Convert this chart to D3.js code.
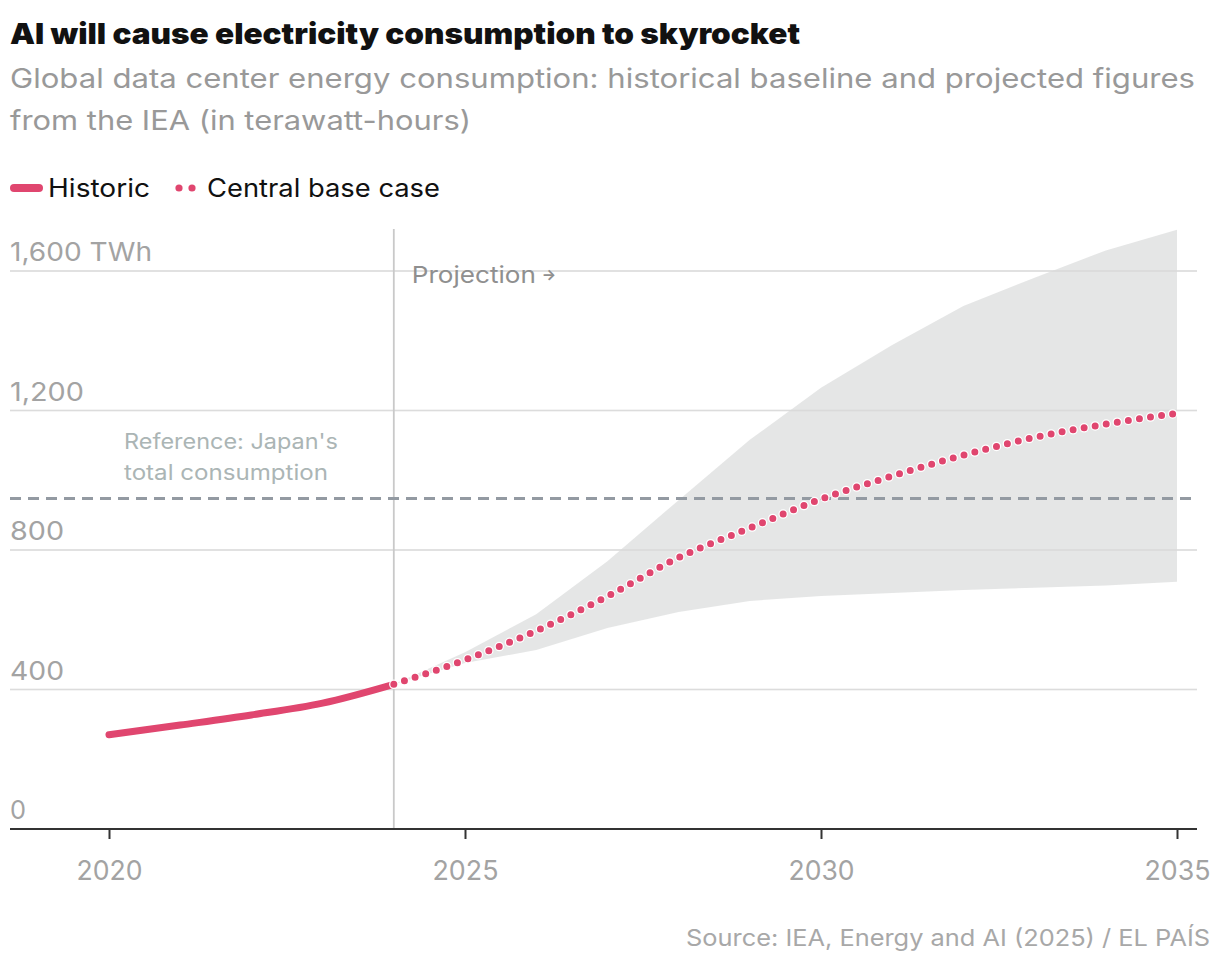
<!DOCTYPE html>
<html>
<head>
<meta charset="utf-8">
<script src="https://cdn.jsdelivr.net/npm/d3@7"></script>
<style>
  html, body { margin: 0; padding: 0; background: #fff; }
  svg { display: block; font-family: Inter, Roboto, "Noto Sans", sans-serif; }
</style>
</head>
<body>
<svg id="chart" width="1220" height="966"></svg>
<script>
// ---- data ----
const historicYears = [2020, 2021, 2022, 2023, 2024];
const historicValues = [270, 298, 327, 361, 415];

const projYears = [2024, 2025, 2026, 2027, 2028, 2029, 2030, 2031, 2032, 2033, 2034, 2035];
const centralValues = [415, 485, 568, 667, 778, 863, 946, 1012, 1072, 1123, 1161, 1192];
const upperValues   = [415, 507, 616, 768, 943, 1116, 1265, 1388, 1500, 1581, 1659, 1718];
const lowerValues   = [415, 476, 513, 576, 622, 654, 668, 677, 685, 692, 698, 709];

const japanReference = 948;
const projectionStartYear = 2024;

const yTicks = [0, 400, 800, 1200, 1600];
const yTickLabels = ["0", "400", "800", "1,200", "1,600 TWh"];
const xTicks = [2020, 2025, 2030, 2035];
const xTickLabels = ["2020", "2025", "2030", "2035"];

const titleText = "AI will cause electricity consumption to skyrocket";
const subtitleLines = [
  "Global data center energy consumption: historical baseline and projected figures",
  "from the IEA (in terawatt-hours)"
];
const legendLabels = ["Historic", "Central base case"];
const sourceText = "Source: IEA, Energy and AI (2025) / EL PAÍS";

// ---- drawing ----
const pink = "#e0466f";
const svg = d3.select("#chart");

const x = d3.scaleLinear().domain([2020, 2035]).range([109, 1177]);
const y = d3.scaleLinear().domain([0, 1600]).range([829, 271]);
const plotLeft = 10, plotRight = 1197;

function fit(sel, w) {
  sel.attr("textLength", w).attr("lengthAdjust", "spacingAndGlyphs");
  return sel;
}

// Title
fit(svg.append("text").attr("x", 10).attr("y", 44)
  .attr("font-size", 29).attr("font-weight", 900).attr("fill", "#111")
  .text(titleText), 790);

const subW = [1185, 461];
svg.selectAll("text.sub").data(subtitleLines).join("text")
  .attr("class", "sub")
  .attr("x", 10).attr("y", (d, i) => 88 + i * 42)
  .attr("font-size", 27).attr("fill", "#999")
  .attr("textLength", (d, i) => subW[i]).attr("lengthAdjust", "spacingAndGlyphs")
  .text(d => d);

// Legend
const lg = svg.append("g");
lg.append("line").attr("x1", 14).attr("x2", 39).attr("y1", 188).attr("y2", 188)
  .attr("stroke", pink).attr("stroke-width", 8).attr("stroke-linecap", "round");
fit(lg.append("text").attr("x", 48).attr("y", 197).attr("font-size", 25).attr("fill", "#111")
  .text(legendLabels[0]), 102);
lg.selectAll("circle").data([179, 192]).join("circle")
  .attr("cx", d => d).attr("cy", 188).attr("r", 3.6).attr("fill", pink);
fit(lg.append("text").attr("x", 207).attr("y", 197).attr("font-size", 25).attr("fill", "#111")
  .text(legendLabels[1]), 233);

// Gridlines
svg.append("g").selectAll("line").data(yTicks.filter(d => d > 0)).join("line")
  .attr("x1", plotLeft).attr("x2", plotRight)
  .attr("y1", d => y(d)).attr("y2", d => y(d))
  .attr("stroke", "#e2e2e2").attr("stroke-width", 1.5);

// Band
const bandData = projYears.map((yr, i) => ({ yr, lo: lowerValues[i], hi: upperValues[i] }));
svg.append("path").datum(bandData)
  .attr("d", d3.area().x(d => x(d.yr)).y0(d => y(d.lo)).y1(d => y(d.hi)))
  .attr("fill", "#dcdede").attr("fill-opacity", 0.75);

// Gridlines over band (faint)
svg.append("g").selectAll("line").data(yTicks.filter(d => d > 0)).join("line")
  .attr("x1", plotLeft).attr("x2", plotRight)
  .attr("y1", d => y(d)).attr("y2", d => y(d))
  .attr("stroke", "#d6d6d6").attr("stroke-opacity", 0.5).attr("stroke-width", 1.5);

// Y tick labels
const yW = [16, 54, 54, 74, 142];
svg.append("g").selectAll("text").data(yTicks).join("text")
  .attr("x", 10).attr("y", d => y(d) - 10)
  .attr("font-size", 26).attr("fill", "#a3a3a3")
  .attr("textLength", (d, i) => yW[i]).attr("lengthAdjust", "spacingAndGlyphs")
  .text((d, i) => yTickLabels[i]);

// Vertical projection line
svg.append("line")
  .attr("x1", x(projectionStartYear)).attr("x2", x(projectionStartYear))
  .attr("y1", 229).attr("y2", 829)
  .attr("stroke", "#c9c9c9").attr("stroke-width", 1.8);

fit(svg.append("text").attr("x", x(projectionStartYear) + 18).attr("y", 283)
  .attr("font-size", 23).attr("fill", "#8f8f8f")
  .text("Projection"), 124);
svg.append("text").attr("x", x(projectionStartYear) + 148).attr("y", 280)
  .attr("font-size", 15).attr("font-weight", 700).attr("fill", "#8f8f8f")
  .text("→");

// Japan reference
svg.append("line")
  .attr("x1", plotLeft).attr("x2", plotRight)
  .attr("y1", y(japanReference)).attr("y2", y(japanReference))
  .attr("stroke", "#939aa2").attr("stroke-width", 3)
  .attr("stroke-dasharray", "11,7");
fit(svg.append("text").attr("x", 124).attr("y", 449)
  .attr("font-size", 21).attr("fill", "#abb5b5").text("Reference: Japan's"), 214);
fit(svg.append("text").attr("x", 124).attr("y", 480)
  .attr("font-size", 21).attr("fill", "#abb5b5").text("total consumption"), 204);

// Historic line
const hist = historicYears.map((yr, i) => ({ yr, v: historicValues[i] }));
svg.append("path").datum(hist)
  .attr("d", d3.line().x(d => x(d.yr)).y(d => y(d.v)).curve(d3.curveMonotoneX))
  .attr("fill", "none").attr("stroke", pink).attr("stroke-width", 7)
  .attr("stroke-linecap", "round");

// Central projection (dotted)
const cen = projYears.map((yr, i) => ({ yr, v: centralValues[i] }));
const cenLine = d3.line().x(d => x(d.yr)).y(d => y(d.v)).curve(d3.curveMonotoneX);
svg.append("path").datum(cen)
  .attr("d", cenLine)
  .attr("fill", "none").attr("stroke", "#fff").attr("stroke-width", 9.5)
  .attr("stroke-linecap", "round").attr("stroke-dasharray", "0,11.2");
svg.append("path").datum(cen)
  .attr("d", cenLine)
  .attr("fill", "none").attr("stroke", pink).attr("stroke-width", 7)
  .attr("stroke-linecap", "round").attr("stroke-dasharray", "0,11.2");

// X axis
svg.append("line").attr("x1", plotLeft).attr("x2", plotRight)
  .attr("y1", 829).attr("y2", 829).attr("stroke", "#333").attr("stroke-width", 2);
const xg = svg.append("g").attr("transform", "translate(0,829)")
  .call(d3.axisBottom(x).tickValues(xTicks).tickSize(10).tickFormat((d, i) => xTickLabels[i]));
xg.select(".domain").remove();
xg.selectAll(".tick line").attr("stroke", "#333").attr("stroke-width", 2);
xg.selectAll(".tick text").attr("font-size", 27).attr("fill", "#a3a3a3")
  .attr("font-family", "Inter, Roboto, sans-serif").attr("dy", "0").attr("y", 51)
  .attr("textLength", 66).attr("lengthAdjust", "spacingAndGlyphs");

// Source
fit(svg.append("text").attr("x", 686).attr("y", 946)
  .attr("font-size", 23).attr("fill", "#a8a8a8").text(sourceText), 524);
</script>
</body>
</html>
